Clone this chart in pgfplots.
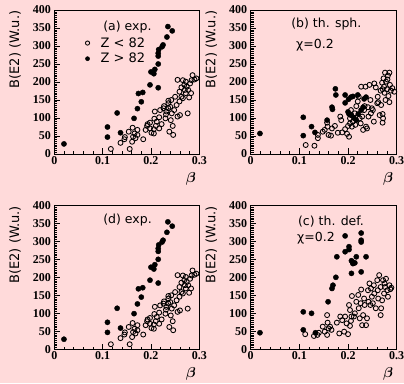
\documentclass[border=0pt]{standalone}
\usepackage{pgfplots}
\pgfplotsset{compat=1.18}
\usepackage{pgfplotstable}
\usepackage{amsmath}
\usepackage{fontspec}
\setmainfont{DejaVu Sans}
\newfontfamily\tickfont{Liberation Serif}[BoldFont={Liberation Serif Bold}]
\newcommand{\tf}{\tickfont\bfseries\fontsize{12}{12}\selectfont}
\definecolor{bgpink}{RGB}{255,218,218}

\pgfplotstableread{
x y
0.117 14
0.137 31
0.145 41
0.146 47
0.154 62
0.156 14
0.161 34
0.163 48
0.162 73
0.166 57
0.168 44
0.172 67
0.172 53
0.184 41
0.189 67
0.192 78
0.193 83
0.198 87
0.201 59
0.206 69
0.206 57
0.207 98
0.208 118
0.210 78
0.217 71
0.217 102
0.219 122
0.226 127
0.227 133
0.230 99
0.231 110
0.232 118
0.236 127
0.236 148
0.238 62
0.241 94
0.243 113
0.245 78
0.246 53
0.248 122
0.250 159
0.253 136
0.255 104
0.259 146
0.259 173
0.260 108
0.263 185
0.266 155
0.269 192
0.270 178
0.272 201
0.272 169
0.274 187
0.276 113
0.277 178
0.279 157
0.281 196
0.283 169
0.284 205
0.286 219
0.290 207
0.294 210
0.255 206
0.263 159
0.212 90
0.222 83
0.198 71
0.236 141
0.240 131
0.242 150
0.266 205
}\openA

\pgfplotstableread{
x y
0.020 28
0.110 75
0.110 47
0.130 114
0.137 59
0.165 99
0.172 126
0.174 168
0.183 171
0.180 145
0.198 192
0.200 228
0.206 223
0.208 235
0.215 184
0.215 250
0.215 272
0.215 280
0.216 290
0.223 298
0.225 303
0.233 325
0.235 354
0.244 342
}\fullA

\pgfplotstableread{
x y
0.113 25
0.131 23
0.138 44
0.138 53
0.148 62
0.152 67
0.157 87
0.158 76
0.160 53
0.165 51
0.167 71
0.173 78
0.179 59
0.184 104
0.186 94
0.188 60
0.194 69
0.198 56
0.200 78
0.202 48
0.204 85
0.204 99
0.206 122
0.208 76
0.210 90
0.214 113
0.215 81
0.217 133
0.220 146
0.222 159
0.224 99
0.226 85
0.227 187
0.229 104
0.231 67
0.233 122
0.234 133
0.236 187
0.237 76
0.239 71
0.241 130
0.242 104
0.244 192
0.246 150
0.247 113
0.249 127
0.251 122
0.253 90
0.254 196
0.257 185
0.260 141
0.261 159
0.262 144
0.265 108
0.268 136
0.267 176
0.270 198
0.271 180
0.273 210
0.274 187
0.276 226
0.277 150
0.278 201
0.271 111
0.272 99
0.271 87
0.280 180
0.281 207
0.283 161
0.285 226
0.286 192
0.288 176
0.291 183
0.295 173
0.285 144
0.282 218
0.275 170
}\openB

\pgfplotstableread{
x y
0.019 57
0.108 102
0.108 51
0.125 76
0.132 60
0.157 94
0.167 130
0.168 124
0.175 164
0.174 181
0.194 164
0.194 142
0.201 152
0.206 158
0.210 160
0.220 164
0.200 117
0.206 108
0.212 100
0.217 94
0.221 111
0.227 122
0.231 130
0.233 153
0.237 158
0.202 111
0.207 108
}\fullB

\pgfplotstableread{
x y
0.112 42
0.130 37
0.137 40
0.140 46
0.148 63
0.152 49
0.157 40
0.157 95
0.158 74
0.160 58
0.163 63
0.166 54
0.177 74
0.182 44
0.184 91
0.188 81
0.192 49
0.194 91
0.197 72
0.200 42
0.202 123
0.204 109
0.204 65
0.206 79
0.207 91
0.208 148
0.212 91
0.214 100
0.217 132
0.221 151
0.222 114
0.224 86
0.226 128
0.227 166
0.229 67
0.231 95
0.233 141
0.234 123
0.237 67
0.239 86
0.241 164
0.242 132
0.244 183
0.246 123
0.247 169
0.249 146
0.251 128
0.253 178
0.254 155
0.257 114
0.260 192
0.261 164
0.262 141
0.264 206
0.267 173
0.267 95
0.268 114
0.270 136
0.272 192
0.274 155
0.275 183
0.276 173
0.278 196
0.281 164
0.282 146
0.285 178
0.287 167
0.289 171
}\openC

\pgfplotstableread{
x y
0.019 46
0.108 104
0.108 54
0.125 100
0.133 46
0.159 132
0.167 169
0.169 178
0.175 200
0.177 257
0.194 271
0.194 315
0.202 277
0.202 285
0.207 211
0.207 246
0.209 243
0.210 238
0.214 240
0.217 257
0.227 323
0.227 303
0.227 298
0.227 215
0.237 257
}\fullC

\tikzset{lbl/.style={anchor=west, inner sep=0pt, font=\fontsize{12.5}{13}\selectfont}}

\pgfplotsset{
  panel/.style={
    scale only axis, height=144pt, anchor=south west,
    xmin=0, xmax=0.3, ymin=0, ymax=400,
    xtick={0,0.1,0.2,0.3},
    xticklabels={{\tf 0},{\tf 0.1},{\tf 0.2},{\tf 0.3}},
    ytick={0,50,...,400},
    yticklabels={{\tf 0},{\tf 50},{\tf 100},{\tf 150},{\tf 200},{\tf 250},{\tf 300},{\tf 350},{\tf 400}},
    minor x tick num=4, minor y tick num=9,
    tick align=inside, xtick pos=bottom, ytick pos=left,
    major tick length=5.5pt, minor tick length=2.8pt,
    every tick/.style={black, line width=0.6pt},
    axis line style={line width=0.7pt},
    xticklabel style={yshift=1pt},
    ylabel={B(E2) (W.u.)},
    ylabel style={font=\fontsize{13}{14}\selectfont, at={(axis description cs:-0.27,1.02)}, anchor=east},
    xlabel={$\boldsymbol{\beta}$},
    xlabel style={font=\fontsize{14}{14}\selectfont, at={(axis description cs:1,-0.105)}, anchor=north east},
    clip=false,
  },
  opn/.style={only marks, mark=o, mark size=2.5pt, mark options={black, line width=0.85pt}},
  ful/.style={only marks, mark=*, mark size=2.6pt, mark options={black, fill=black}},
}

\begin{document}
\begin{tikzpicture}
\path[use as bounding box, fill=bgpink] (0,0) rectangle (404pt,383pt);

% (a)
\begin{axis}[panel, width=145pt, at={(54.3pt,229pt)},
  legend image code/.code={\draw[mark repeat=1,#1, mark size=2.1pt] plot coordinates {(0pt,0pt)};},
  legend style={draw=none, fill=none, at={(axis cs:0.064,327)}, anchor=north west,
    font=\fontsize{13}{14}\selectfont, row sep=2.5pt, inner sep=0pt,
    nodes={inner sep=1pt}, /tikz/every odd column/.style={column sep=10pt}},
  legend cell align=left]
\addplot[opn] table {\openA};
\addplot[ful] table {\fullA};
\legend{Z < 82, Z > 82}
\node[lbl] at (axis cs:0.101,353) {(a) exp.};
\end{axis}

% (b)
\begin{axis}[panel, width=146pt, at={(250.7pt,229pt)}]
\addplot[opn] table {\openB};
\addplot[ful] table {\fullB};
\node[lbl] at (axis cs:0.083,360) {(b) th. sph.};
\node[lbl] at (axis cs:0.093,302) {χ=0.2};
\end{axis}

% (d)
\begin{axis}[panel, width=145pt, at={(54.3pt,33.7pt)}]
\addplot[opn] table {\openA};
\addplot[ful] table {\fullA};
\node[lbl] at (axis cs:0.101,358) {(d) exp.};
\end{axis}

% (c)
\begin{axis}[panel, width=146pt, at={(250.7pt,33.7pt)}]
\addplot[opn] table {\openC};
\addplot[ful] table {\fullC};
\node[lbl] at (axis cs:0.097,354) {(c) th. def.};
\node[lbl] at (axis cs:0.095,308) {χ=0.2};
\end{axis}
\end{tikzpicture}
\end{document}
